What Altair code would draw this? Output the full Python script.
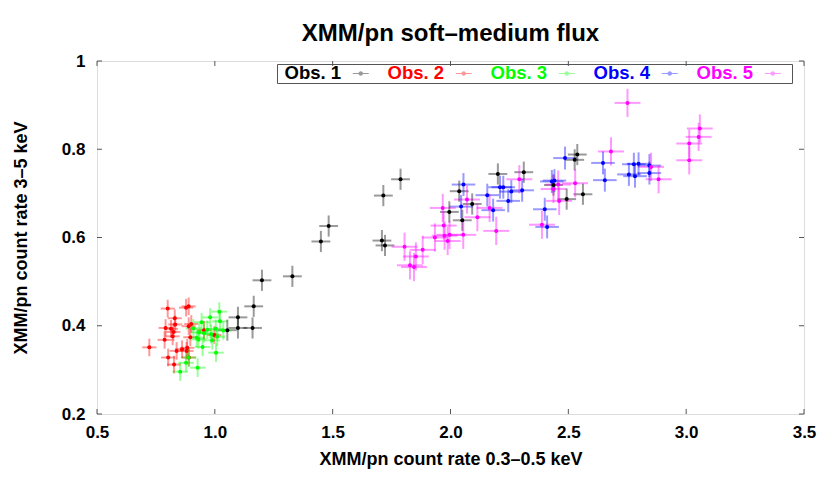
import altair as alt
import pandas as pd

series_names = ["Obs. 1", "Obs. 2", "Obs. 3", "Obs. 4", "Obs. 5"]
series_colors = ["#000000", "#ff0000", "#00ff00", "#0000ff", "#ff00ff"]

obs1_x = [1.053, 1.098, 1.098, 1.160, 1.165, 1.200, 1.329, 1.450, 1.483, 1.709, 1.722, 1.715,
          1.788, 1.995, 2.037, 2.050, 2.092, 2.201, 2.311, 2.437, 2.493, 2.527, 2.538, 2.562]
obs1_y = [0.390, 0.419, 0.395, 0.395, 0.444, 0.503, 0.512, 0.591, 0.626, 0.593, 0.582, 0.695,
          0.732, 0.658, 0.705, 0.639, 0.676, 0.744, 0.748, 0.719, 0.687, 0.776, 0.788, 0.698]

obs2_x = [0.722, 0.800, 0.878, 0.889, 0.830, 0.832, 0.791, 0.814, 0.824, 0.889, 0.900, 0.787,
          0.821, 0.896, 0.838, 0.861, 0.883, 0.880, 0.802, 0.827, 0.890, 0.954, 0.998]
obs2_y = [0.351, 0.439, 0.441, 0.444, 0.417, 0.403, 0.395, 0.393, 0.386, 0.399, 0.404, 0.368,
          0.376, 0.374, 0.343, 0.347, 0.350, 0.343, 0.328, 0.312, 0.328, 0.390, 0.379]

obs3_x = [1.019, 0.980, 0.944, 1.022, 0.909, 0.968, 1.004, 1.036, 0.934, 0.954, 0.984, 0.923,
          1.010, 0.989, 0.930, 0.948, 1.005, 0.889, 0.878, 0.927, 0.853]
obs3_y = [0.432, 0.419, 0.408, 0.410, 0.394, 0.391, 0.393, 0.389, 0.385, 0.383, 0.381, 0.373,
          0.375, 0.367, 0.369, 0.352, 0.339, 0.328, 0.316, 0.305, 0.296]

obs4_x = [2.055, 2.045, 2.156, 2.181, 2.210, 2.224, 2.258, 2.245, 2.304, 2.400, 2.410, 2.430,
          2.441, 2.486, 2.647, 2.655, 2.778, 2.798, 2.757, 2.783, 2.844, 2.844]
obs4_y = [0.720, 0.670, 0.696, 0.662, 0.714, 0.714, 0.704, 0.683, 0.707, 0.664, 0.624, 0.727,
          0.729, 0.780, 0.769, 0.730, 0.766, 0.767, 0.743, 0.739, 0.763, 0.746]

obs5_x = [1.805, 1.882, 1.853, 1.828, 1.845, 1.934, 1.967, 1.971, 1.975, 1.996, 1.988, 2.054,
          2.070, 2.114, 2.166, 2.194, 2.292, 2.388, 2.437, 2.457, 2.461, 2.529, 2.681, 2.751,
          2.851, 2.883, 3.013, 3.013, 3.053, 3.058]
obs5_y = [0.579, 0.572, 0.557, 0.537, 0.533, 0.600, 0.667, 0.627, 0.604, 0.606, 0.592, 0.606,
          0.686, 0.646, 0.667, 0.615, 0.732, 0.629, 0.710, 0.720, 0.683, 0.723, 0.795, 0.905,
          0.760, 0.732, 0.813, 0.775, 0.828, 0.847]

series_x_err = [0.040, 0.030, 0.033, 0.050, 0.055]
series_y_err = [0.024, 0.020, 0.021, 0.026, 0.032]

x_ticks = [0.5, 1.0, 1.5, 2.0, 2.5, 3.0, 3.5]
y_ticks = [0.2, 0.4, 0.6, 0.8, 1.0]

W, H = 707, 353
FONT = "Liberation Sans"

rows = []
all_x = [obs1_x, obs2_x, obs3_x, obs4_x, obs5_x]
all_y = [obs1_y, obs2_y, obs3_y, obs4_y, obs5_y]
for name, xs, ys, xe, ye in zip(series_names, all_x, all_y, series_x_err, series_y_err):
    for xv, yv in zip(xs, ys):
        rows.append(dict(series=name, x=xv, y=yv, xlo=xv - xe, xhi=xv + xe,
                         ylo=yv - ye, yhi=yv + ye))
df = pd.DataFrame(rows)

xscale = alt.Scale(domain=[0.5, 3.5], nice=False, zero=False)
yscale = alt.Scale(domain=[0.2, 1.0], nice=False, zero=False)
cscale = alt.Scale(domain=series_names, range=series_colors)

xaxis = alt.Axis(values=x_ticks, format=".1f", title="XMM/pn count rate 0.3–0.5 keV",
                 grid=False, domain=False, ticks=False, tickSize=0, labelPadding=10,
                 labelFont=FONT, labelFontSize=17, labelFontWeight="bold", labelColor="black",
                 labelFlush=False, labelOverlap=False,
                 titleFont=FONT, titleFontSize=18, titleFontWeight="bold", titleColor="black",
                 titleX=W / 2, titleY=45, titleBaseline="middle", titleAlign="center")
yaxis = alt.Axis(values=y_ticks, format="~g", title="XMM/pn count rate 3–5 keV",
                 grid=False, domain=False, ticks=False, tickSize=0, labelPadding=12,
                 labelFont=FONT, labelFontSize=17, labelFontWeight="bold", labelColor="black",
                 labelFlush=False, labelOverlap=False,
                 titleFont=FONT, titleFontSize=18, titleFontWeight="bold", titleColor="black",
                 titleX=-76, titleY=H / 2, titleBaseline="middle", titleAlign="center",
                 titleAngle=270)

parts = [f"datum.value === '{n}' ? '{c}'" for n, c in zip(series_names[:-1], series_colors[:-1])]
label_color_expr = " : ".join(parts) + f" : '{series_colors[-1]}'"

legend_path = ("M-2.5,-0.1L0.7,-0.1L0.7,0.1L-2.5,0.1Z"
               "M-1.35,0A0.45,0.45,0,1,1,-0.45,0A0.45,0.45,0,1,1,-1.35,0Z M2.9,0")

legend = alt.Legend(orient="none", legendX=180, legendY=3, direction="horizontal", columns=5,
                    title=None, labelFont=FONT, labelFontSize=18.5, labelFontWeight="bold",
                    labelColor={"expr": label_color_expr}, labelBaseline="middle",
                    symbolType=legend_path, symbolSize=100, symbolOffset=79,
                    labelOffset={"expr": "-90"},
                    symbolStrokeWidth=0, columnPadding=-3.5, padding=0, strokeColor="#555555")

color_enc = alt.Color("series:N", scale=cscale, legend=legend)

xbars = alt.Chart(df).mark_rule(strokeWidth=2, opacity=0.4).encode(
    x=alt.X("xlo:Q", scale=xscale, axis=xaxis), x2="xhi:Q",
    y=alt.Y("y:Q", scale=yscale, axis=yaxis),
    color=color_enc)
ybars = alt.Chart(df).mark_rule(strokeWidth=2, opacity=0.4).encode(
    x=alt.X("x:Q", scale=xscale, axis=xaxis),
    y=alt.Y("ylo:Q", scale=yscale, axis=yaxis), y2="yhi:Q",
    color=color_enc)
points = alt.Chart(df).mark_point(filled=True, shape="circle", size=16, opacity=1).encode(
    x=alt.X("x:Q", scale=xscale, axis=xaxis),
    y=alt.Y("y:Q", scale=yscale, axis=yaxis),
    color=color_enc)

xt = pd.DataFrame({"t": x_ticks})
yt = pd.DataFrame({"t": y_ticks})
TICK = "#555555"
tick_bottom = alt.Chart(xt).mark_rule(color=TICK, strokeWidth=1).encode(
    x=alt.X("t:Q", scale=xscale, axis=xaxis), y=alt.value(H), y2=alt.value(H - 5))
tick_top = alt.Chart(xt).mark_rule(color=TICK, strokeWidth=1).encode(
    x=alt.X("t:Q", scale=xscale, axis=xaxis), y=alt.value(0), y2=alt.value(5))
tick_left = alt.Chart(yt).mark_rule(color=TICK, strokeWidth=1).encode(
    y=alt.Y("t:Q", scale=yscale, axis=yaxis), x=alt.value(0), x2=alt.value(5))
tick_right = alt.Chart(yt).mark_rule(color=TICK, strokeWidth=1).encode(
    y=alt.Y("t:Q", scale=yscale, axis=yaxis), x=alt.value(W), x2=alt.value(W - 5))

chart = alt.layer(tick_bottom, tick_top, tick_left, tick_right, xbars, ybars, points).properties(
    width=W, height=H,
    title=alt.TitleParams(text="XMM/pn soft–medium flux", font=FONT, fontSize=24,
                          fontWeight="bold", color="black", anchor="middle", offset=6),
    padding={"left": 89, "top": 53, "right": 18, "bottom": 55},
    autosize=alt.AutoSizeParams(type="none"),
).configure_view(stroke="#666666", strokeWidth=1.5).configure(background="white", font=FONT)

chart.save("out.html", embed_options={"renderer": "svg", "actions": False})
